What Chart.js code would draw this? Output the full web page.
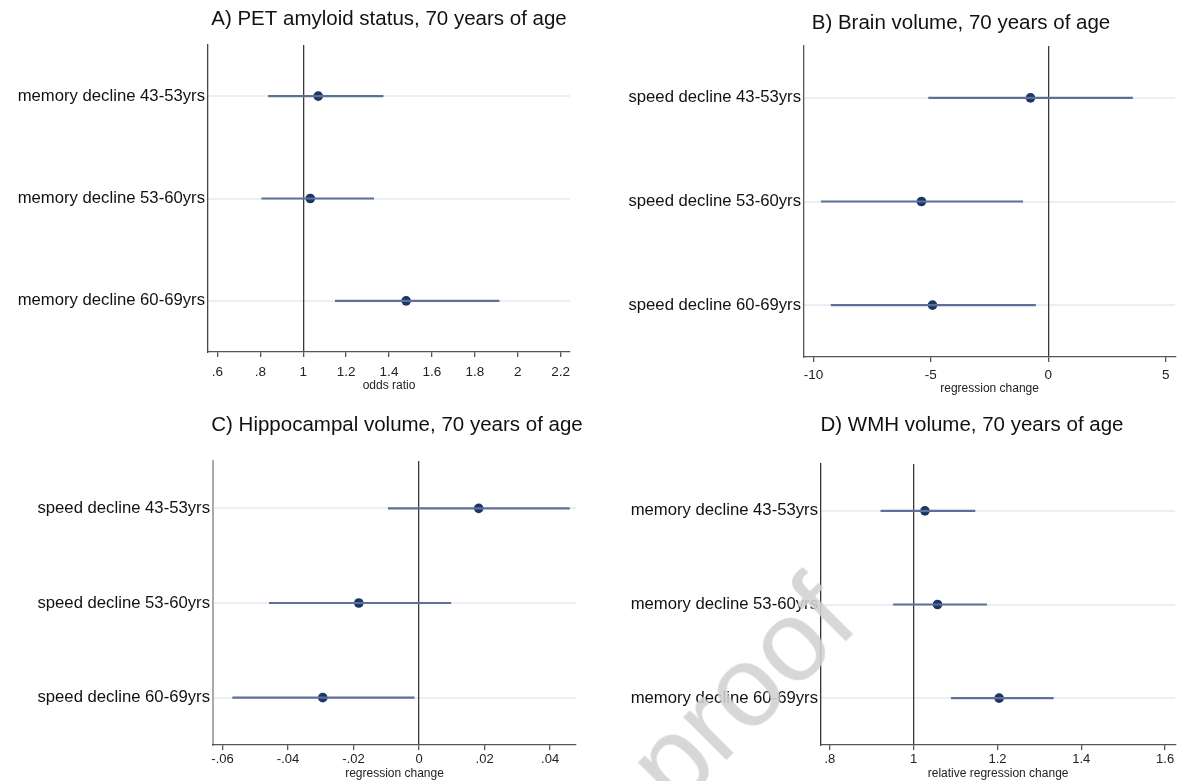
<!DOCTYPE html>
<html>
<head>
<meta charset="utf-8">
<script src="https://cdn.jsdelivr.net/npm/chart.js@4.4.1/dist/chart.umd.min.js"></script>
<style>
  html, body { margin: 0; padding: 0; background: #fff; overflow: hidden; }
  body { width: 1180px; height: 781px; position: relative; }
  .panel { position: absolute; }
  #watermark {
    position: absolute; left: 608px; top: 630px; width: 270px; height: 115px;
    font: 115px "Liberation Sans", Arial, sans-serif; line-height: 115px;
    color: rgba(210, 210, 210, 0.88); transform: rotate(-45deg);
    white-space: nowrap; pointer-events: none;
  }
</style>
</head>
<body>
<div class="panel" style="left:0;top:0"><canvas id="chartA" width="590" height="400"></canvas></div>
<div class="panel" style="left:590px;top:0"><canvas id="chartB" width="590" height="400"></canvas></div>
<div class="panel" style="left:0;top:400px"><canvas id="chartC" width="590" height="381"></canvas></div>
<div class="panel" style="left:590px;top:400px"><canvas id="chartD" width="590" height="381"></canvas></div>
<div id="watermark">proof</div>
<script>
// data
const memoryLabels = ["memory decline 43-53yrs", "memory decline 53-60yrs", "memory decline 60-69yrs"];
const speedLabels = ["speed decline 43-53yrs", "speed decline 53-60yrs", "speed decline 60-69yrs"];

// A) PET amyloid, odds ratio
const estA = [1.07, 1.033, 1.48];
const lowA = [0.836, 0.805, 1.148];
const highA = [1.374, 1.33, 1.915];
const ticksA = [0.6, 0.8, 1, 1.2, 1.4, 1.6, 1.8, 2, 2.2];

// B) Brain volume, regression change
const estB = [-0.76, -5.4, -4.93];
const lowB = [-5.11, -9.68, -9.26];
const highB = [3.6, -1.08, -0.53];
const ticksB = [-10, -5, 0, 5];

// C) Hippocampal volume, regression change
const estC = [0.0182, -0.0184, -0.0294];
const lowC = [-0.0095, -0.0458, -0.057];
const highC = [0.046, 0.0098, -0.0014];
const ticksC = [-0.06, -0.04, -0.02, 0, 0.02, 0.04];

// D) WMH volume, relative regression change
const estD = [1.027, 1.057, 1.204];
const lowD = [0.921, 0.951, 1.089];
const highD = [1.147, 1.175, 1.334];
const ticksD = [0.8, 1, 1.2, 1.4, 1.6];

const FONT = '"Liberation Sans", Arial, Helvetica, sans-serif';
Chart.defaults.font.family = FONT;
Chart.defaults.animation = false;

// Stata style tick label: .6, -.02 etc.
function stataNum(v) {
  const s = String(Number(v.toFixed(4)));
  return s.replace(/^(-?)0\./, "$1.");
}

const panelTitle = {
  id: "panelTitle",
  afterDraw(chart, args, opts) {
    const ctx = chart.ctx;
    ctx.save();
    ctx.font = "20.5px " + FONT;
    ctx.fillStyle = "#111";
    ctx.textAlign = "center";
    ctx.textBaseline = "middle";
    ctx.fillText(opts.text, opts.x, opts.y);
    ctx.restore();
  },
};

function makePanel(id, cfg) {
  const labels = cfg.labels;
  const datasets = labels.map((lab, i) => ({
    data: [
      { x: cfg.low[i], y: lab },
      { x: cfg.high[i], y: lab },
    ],
    showLine: true,
    borderColor: "#5d7098",
    borderWidth: 2.2,
    pointRadius: 0,
  }));
  datasets.push({
    data: labels.map((lab, i) => ({ x: cfg.est[i], y: lab })),
    pointRadius: 4.8,
    pointBackgroundColor: "#1d3667",
    pointBorderWidth: 0,
  });

  new Chart(document.getElementById(id), {
    type: "scatter",
    data: { datasets: datasets },
    plugins: [panelTitle],
    options: {
      responsive: false,
      layout: { padding: { top: cfg.top, right: cfg.right, bottom: cfg.bottom, left: 0 } },
      plugins: {
        legend: { display: false },
        tooltip: { enabled: false },
        panelTitle: { text: cfg.title, x: cfg.titleX, y: cfg.titleY },
      },
      scales: {
        y: {
          type: "category",
          labels: labels,
          offset: true,
          grid: { offset: false, color: "#eaeef5", lineWidth: 2, drawTicks: false },
          border: { color: cfg.axisColor, width: cfg.axisWidth },
          ticks: { font: { size: 16.7 }, color: "#111", padding: 3 },
          afterFit: (s) => { s.width = cfg.left; },
        },
        x: {
          type: "linear",
          min: cfg.min,
          max: cfg.max,
          afterBuildTicks: (s) => { s.ticks = cfg.ticks.map((v) => ({ value: v })); },
          grid: {
            color: (c) => (c.tick && Math.abs(c.tick.value - cfg.ref) < 1e-9 ? "#3a3a3a" : "rgba(0,0,0,0)"),
            lineWidth: 1.3,
            tickColor: "#555",
            tickLength: 5,
          },
          border: { color: "#555", width: 1.2 },
          ticks: { font: { size: cfg.tickSize }, color: "#222", padding: cfg.tickPad, callback: (v) => stataNum(v) },
          title: { display: true, text: cfg.xTitle, font: { size: 12 }, color: "#222", padding: 0 },
          afterFit: (s) => { s.height = cfg.xHeight; },
        },
      },
    },
  });
}

makePanel("chartA", {
  labels: memoryLabels, est: estA, low: lowA, high: highA, ticks: ticksA,
  min: 0.556, max: 2.244, ref: 1, xTitle: "odds ratio",
  title: "A) PET amyloid status, 70 years of age", titleX: 389, titleY: 19,
  left: 208, top: 45, right: 20, bottom: 7, xHeight: 41, tickPad: 7, tickSize: 13.5,
  axisColor: "#444", axisWidth: 1.3,
});

makePanel("chartB", {
  labels: speedLabels, est: estB, low: lowB, high: highB, ticks: ticksB,
  min: -10.4, max: 5.4, ref: 0, xTitle: "regression change",
  title: "B) Brain volume, 70 years of age", titleX: 371, titleY: 23,
  left: 214, top: 46, right: 4, bottom: 4, xHeight: 39, tickPad: 5, tickSize: 13.5,
  axisColor: "#555", axisWidth: 1.3,
});

makePanel("chartC", {
  labels: speedLabels, est: estC, low: lowC, high: highC, ticks: ticksC,
  min: -0.0629, max: 0.0479, ref: 0, xTitle: "regression change",
  title: "C) Hippocampal volume, 70 years of age", titleX: 397, titleY: 25,
  left: 213, top: 61, right: 14, bottom: 0, xHeight: 36, tickPad: 2, tickSize: 13,
  axisColor: "#aaa", axisWidth: 2,
});

makePanel("chartD", {
  labels: memoryLabels, est: estD, low: lowD, high: highD, ticks: ticksD,
  min: 0.779, max: 1.624, ref: 1, xTitle: "relative regression change",
  title: "D) WMH volume, 70 years of age", titleX: 382, titleY: 25,
  left: 231, top: 64, right: 3, bottom: 0, xHeight: 36, tickPad: 2, tickSize: 13,
  axisColor: "#333", axisWidth: 1.3,
});
</script>
</body>
</html>
